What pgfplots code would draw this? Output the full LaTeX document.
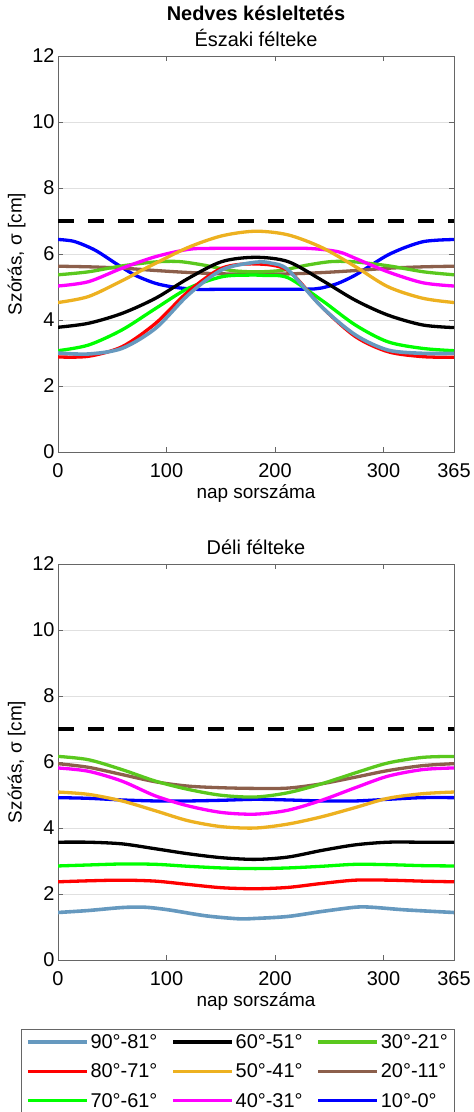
\documentclass[border=0pt]{standalone}
\usepackage{fontspec}
\setmainfont{Liberation Sans}
\usepackage{pgfplots}
\pgfplotsset{compat=1.18}

\definecolor{c90}{RGB}{102,153,191}
\definecolor{c80}{RGB}{255,0,0}
\definecolor{c70}{RGB}{0,255,0}
\definecolor{c60}{RGB}{0,0,0}
\definecolor{c50}{RGB}{237,177,32}
\definecolor{c40}{RGB}{255,0,255}
\definecolor{c30}{RGB}{90,200,30}
\definecolor{c20}{RGB}{140,95,75}
\definecolor{c10}{RGB}{0,0,255}

\pgfplotsset{
  panel/.style={
    width=396bp, height=396bp, scale only axis,
    xmin=0, xmax=365, ymin=0, ymax=12,
    xtick={0,100,200,300,365}, ytick={0,2,...,12},
    ymajorgrids, grid style={draw=black!12, line width=0.7bp},
    axis line style={draw=black!60, line width=0.8bp},
    tick style={draw=black!60, line width=0.8bp},
    major tick length=5bp,
    tick label style={font=\fontsize{20}{22}\selectfont},
    xticklabel style={yshift=-8bp},
    /pgf/number format/assume math mode=true,
    xlabel={nap sorszáma}, ylabel={Szórás, σ [cm]},
    label style={font=\fontsize{19}{22}\selectfont},
    every axis plot/.append style={line width=3.3bp, smooth},
    title style={font=\fontsize{20}{26}\selectfont, align=center},
  },
}

\begin{document}
\begin{tikzpicture}
\path[use as bounding box] (0bp,0bp) rectangle (474bp,-1112bp);

% Északi félteke
\begin{axis}[panel, at={(58bp,-452bp)}, anchor=south west,
  title={\textbf{Nedves késleltetés}\\Északi félteke}]
\addplot[black, line width=3.5bp, sharp plot, dash pattern=on 16bp off 14bp] coordinates {(0,7) (365,7)};
\addplot[c10] coordinates {(0,6.44) (15,6.38) (34,6.12) (53,5.72) (71,5.36) (90,5.11) (108,4.99) (127,4.93) (150,4.93) (182,4.93) (215,4.93) (236,4.94) (243,4.97) (258,5.11) (274,5.36) (289,5.67) (304,5.97) (320,6.2) (336,6.37) (350,6.42) (365,6.44)};
\addplot[c20] coordinates {(0,5.63) (30,5.61) (60,5.57) (90,5.5) (120,5.44) (150,5.4) (182,5.39) (215,5.4) (245,5.44) (275,5.5) (305,5.57) (335,5.61) (365,5.63)};
\addplot[c30] coordinates {(0,5.37) (28,5.46) (59,5.64) (90,5.76) (112,5.77) (135,5.66) (160,5.5) (182,5.46) (205,5.5) (229,5.66) (252,5.77) (274,5.76) (305,5.64) (337,5.46) (365,5.37)};
\addplot[c40] coordinates {(0,5.03) (28,5.16) (59,5.57) (90,5.92) (120,6.14) (140,6.17) (182,6.17) (230,6.17) (258,6.07) (274,5.87) (304,5.46) (336,5.13) (365,5.03)};
\addplot[c50] coordinates {(0,4.53) (28,4.71) (59,5.19) (78,5.52) (90,5.72) (120,6.2) (151,6.55) (182,6.69) (212,6.58) (243,6.2) (274,5.62) (304,5.01) (336,4.66) (365,4.53)};
\addplot[c60] coordinates {(0,3.78) (28,3.9) (59,4.2) (90,4.66) (120,5.26) (151,5.77) (182,5.9) (212,5.77) (243,5.21) (274,4.6) (304,4.15) (336,3.85) (365,3.77)};
\addplot[c70] coordinates {(0,3.07) (28,3.24) (59,3.7) (90,4.35) (120,4.96) (151,5.31) (175,5.36) (190,5.35) (212,5.28) (243,4.6) (274,3.85) (304,3.34) (336,3.14) (365,3.07)};
\addplot[c80] coordinates {(0,2.88) (28,2.9) (59,3.19) (90,3.9) (120,4.86) (151,5.57) (182,5.7) (212,5.5) (243,4.4) (274,3.5) (304,3.04) (336,2.89) (365,2.87)};
\addplot[c90, line width=3.6bp] coordinates {(0,3.0) (28,2.97) (59,3.14) (90,3.75) (120,4.76) (151,5.52) (182,5.75) (197,5.72) (212,5.52) (243,4.4) (274,3.55) (304,3.09) (336,2.99) (365,2.99)};
\end{axis}

% Déli félteke
\begin{axis}[panel, at={(58bp,-960bp)}, anchor=south west,
  title={Déli félteke},
  legend columns=3, legend cell align=left,
  legend style={at={(1.003,-0.174)}, anchor=north east, draw=black!60, line width=0.8bp,
    font=\fontsize{20}{24}\selectfont, row sep=10bp, inner xsep=5bp, inner ysep=3bp,
    /tikz/every even column/.append style={column sep=12bp}},
  legend image code/.code={\draw[#1, line width=3.3bp] (0bp,0bp) -- (59bp,0bp);}]
\addplot[black, line width=3.5bp, sharp plot, dash pattern=on 16bp off 14bp, forget plot] coordinates {(0,7) (365,7)};
\addplot[c10, forget plot] coordinates {(0,4.92) (28,4.9) (59,4.85) (90,4.82) (120,4.82) (151,4.84) (182,4.87) (212,4.85) (243,4.82) (274,4.82) (304,4.87) (336,4.92) (365,4.92)};
\addplot[c20, forget plot] coordinates {(0,5.95) (28,5.84) (59,5.62) (90,5.4) (120,5.27) (151,5.22) (182,5.2) (212,5.21) (243,5.34) (274,5.54) (304,5.74) (336,5.89) (365,5.95)};
\addplot[c30, forget plot] coordinates {(0,6.17) (28,6.07) (59,5.77) (90,5.42) (120,5.17) (151,4.99) (182,4.94) (212,5.07) (243,5.34) (274,5.67) (304,5.97) (336,6.14) (365,6.17)};
\addplot[c40, forget plot] coordinates {(0,5.82) (28,5.72) (59,5.42) (90,4.97) (120,4.67) (151,4.47) (182,4.42) (212,4.54) (243,4.84) (274,5.22) (304,5.57) (336,5.77) (365,5.82)};
\addplot[c50, forget plot] coordinates {(0,5.09) (28,5.02) (59,4.82) (90,4.52) (120,4.22) (151,4.04) (182,4.0) (212,4.12) (243,4.34) (274,4.62) (304,4.9) (336,5.04) (365,5.09)};
\addplot[c60, forget plot] coordinates {(0,3.57) (28,3.57) (59,3.52) (90,3.37) (120,3.22) (151,3.1) (182,3.05) (212,3.12) (243,3.32) (274,3.49) (304,3.57) (336,3.57) (365,3.57)};
\addplot[c70, forget plot] coordinates {(0,2.85) (28,2.88) (59,2.91) (90,2.9) (120,2.84) (151,2.79) (182,2.77) (212,2.79) (243,2.84) (274,2.9) (304,2.89) (336,2.86) (365,2.85)};
\addplot[c80, forget plot] coordinates {(0,2.37) (28,2.4) (59,2.42) (90,2.39) (120,2.29) (151,2.19) (182,2.16) (212,2.2) (243,2.32) (274,2.42) (304,2.42) (336,2.39) (365,2.37)};
\addplot[c90, line width=3.6bp, forget plot] coordinates {(0,1.44) (28,1.5) (59,1.59) (80,1.6) (102,1.52) (136,1.34) (166,1.25) (182,1.26) (212,1.32) (243,1.47) (274,1.6) (289,1.6) (320,1.52) (365,1.44)};
% legend, column order as in the original
\addlegendimage{c90}\addlegendentry{90°-81°}
\addlegendimage{c60}\addlegendentry{60°-51°}
\addlegendimage{c30}\addlegendentry{30°-21°}
\addlegendimage{c80}\addlegendentry{80°-71°}
\addlegendimage{c50}\addlegendentry{50°-41°}
\addlegendimage{c20}\addlegendentry{20°-11°}
\addlegendimage{c70}\addlegendentry{70°-61°}
\addlegendimage{c40}\addlegendentry{40°-31°}
\addlegendimage{c10}\addlegendentry{10°-0°}
\end{axis}
\end{tikzpicture}
\end{document}
